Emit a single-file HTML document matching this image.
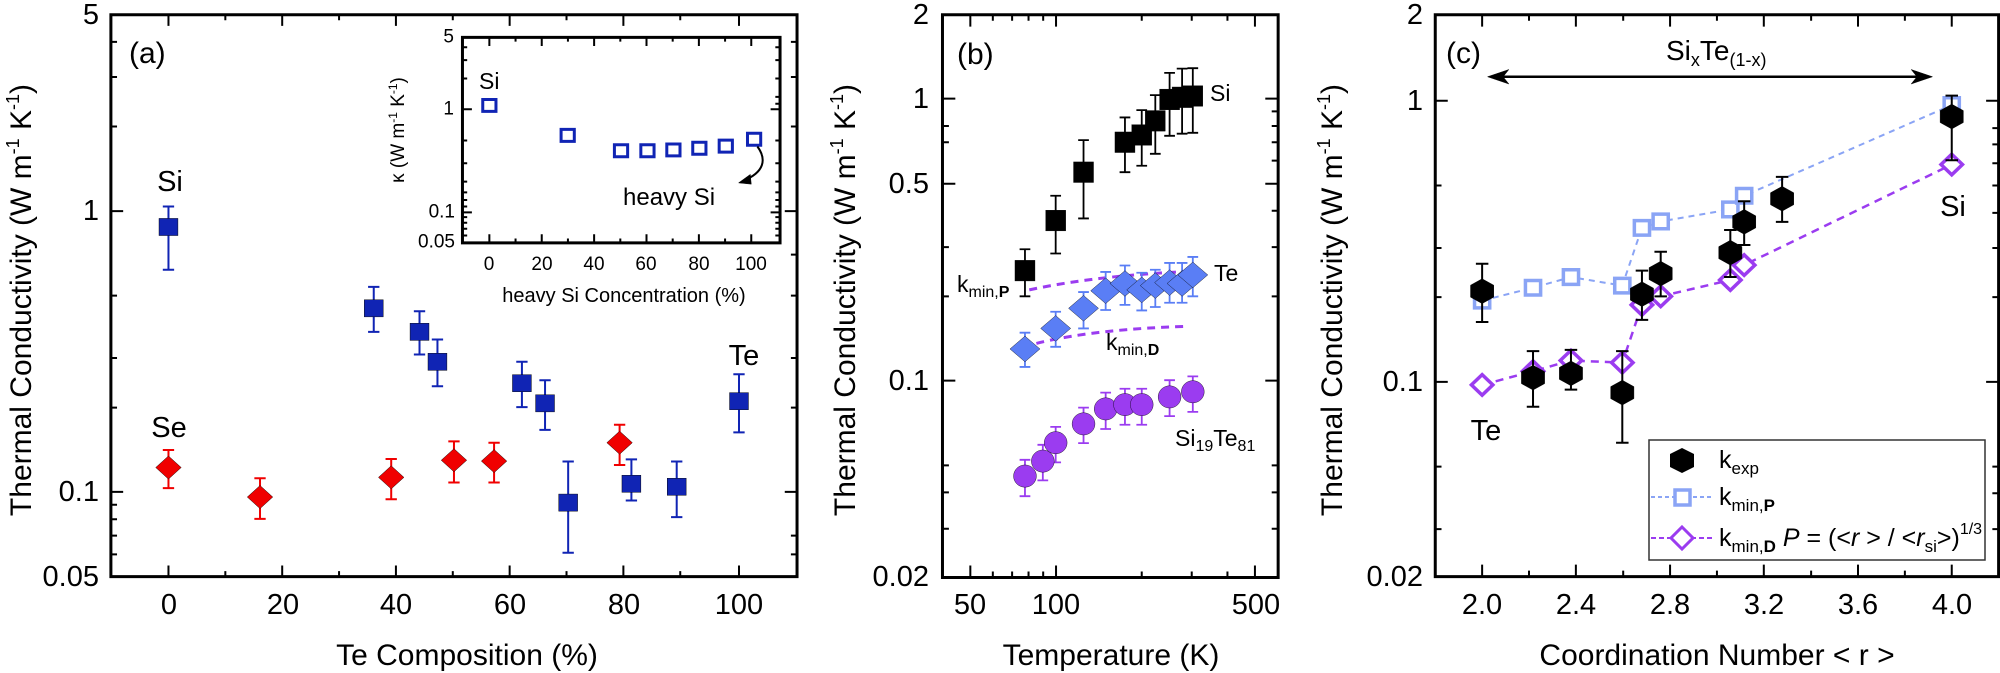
<!DOCTYPE html>
<html><head><meta charset="utf-8"><style>
html,body{margin:0;padding:0;background:#fff}
svg{display:block}
text{font-family:"Liberation Sans",Arial,sans-serif;fill:#000}
</style></head><body>
<svg width="2000" height="673" viewBox="0 0 2000 673" xmlns="http://www.w3.org/2000/svg">
<defs>
<rect id="sqa" x="-20" y="-20" width="40" height="40" fill="#1024b4"/>
<polygon id="dia" points="0,-27 27,0 0,27 -27,0" fill="#f00000"/>
<rect id="isq" x="-14" y="-14" width="28" height="28" fill="none" stroke="#1024b4" stroke-width="3" vector-effect="non-scaling-stroke"/>
<rect id="sqb" x="-28" y="-24" width="56" height="48" fill="#000"/>
<polygon id="dib" points="0,-30 42,0 0,30 -42,0" fill="#5a7ef5"/>
<ellipse id="cib" rx="32" ry="26" fill="#9b3cf0"/>
<polygon id="hex" points="0,-29 26,-14 26,14 0,29 -26,14 -26,-14" fill="#000"/>
<rect id="osq" x="-17" y="-17" width="34" height="34" fill="#fff" stroke="#8aa4f5" stroke-width="3.5" vector-effect="non-scaling-stroke"/>
<polygon id="odi" points="0,-24 24,0 0,24 -24,0" fill="#fff" stroke="#9b3cf0" stroke-width="3.5" vector-effect="non-scaling-stroke"/>
</defs>

<!-- ================= PANEL A ================= -->
<g transform="translate(0,1) scale(0.4719,0.4280)" fill="none" stroke="#000">
<rect x="235" y="32" width="1454" height="1313" stroke-width="3" vector-effect="non-scaling-stroke"/>
<path vector-effect="non-scaling-stroke" stroke-width="2" d="
M357 1345v-26 M477.5 1345v-13 M598 1345v-26 M718.5 1345v-13 M839 1345v-26 M959.5 1345v-13 M1080 1345v-26 M1200.5 1345v-13 M1321 1345v-26 M1441.5 1345v-13 M1566 1345v-26
M357 32v26 M477.5 32v13 M598 32v26 M718.5 32v13 M839 32v26 M959.5 32v13 M1080 32v26 M1200.5 32v13 M1321 32v26 M1441.5 32v13 M1566 32v26
M235 95.6h13 M235 177.6h13 M235 293.3h13 M235 491h26 M235 688.5h13 M235 834h13 M235 950h13 M235 1147h26 M235 1177h13 M235 1211h13 M235 1249h13 M235 1293h13
M1689 95.6h-13 M1689 177.6h-13 M1689 293.3h-13 M1689 491h-26 M1689 592.6h-13 M1689 688.5h-13 M1689 834h-13 M1689 950h-13 M1689 1147h-26 M1689 1249h-13 M1689 1293h-13"/>
<path stroke="#1024b4" stroke-width="2" vector-effect="non-scaling-stroke" d="
M357 480V628M345 480h24M345 628h24
M792 668V773M780 668h24M780 773h24
M889 725V826M877 725h24M877 826h24
M927 791V900M915 791h24M915 900h24
M1106 843V949M1094 843h24M1094 949h24
M1155 886V1002M1143 886h24M1143 1002h24
M1204 1076V1289M1192 1076h24M1192 1289h24
M1338 1071V1167M1326 1071h24M1326 1167h24
M1434 1076V1206M1422 1076h24M1422 1206h24
M1566 872V1008M1554 872h24M1554 1008h24"/>
<path stroke="#f00000" stroke-width="2" vector-effect="non-scaling-stroke" d="
M357 1049V1138M345 1049h24M345 1138h24
M551 1115V1210M539 1115h24M539 1210h24
M829 1070V1164M817 1070h24M817 1164h24
M962 1029V1125M950 1029h24M950 1125h24
M1047 1032V1125M1035 1032h24M1035 1125h24
M1313 990V1084M1301 990h24M1301 1084h24"/>
<use href="#sqa" x="357" y="528"/><use href="#sqa" x="792" y="718"/><use href="#sqa" x="889" y="773"/><use href="#sqa" x="927" y="843"/><use href="#sqa" x="1106" y="893"/><use href="#sqa" x="1155" y="940"/><use href="#sqa" x="1204" y="1172"/><use href="#sqa" x="1338" y="1128"/><use href="#sqa" x="1434" y="1135"/><use href="#sqa" x="1566" y="935"/>
<use href="#dia" x="357" y="1090"/><use href="#dia" x="551" y="1159"/><use href="#dia" x="829" y="1113"/><use href="#dia" x="962" y="1073"/><use href="#dia" x="1047" y="1075"/><use href="#dia" x="1313" y="1032"/>
<rect x="980" y="85" width="673" height="480" fill="#fff" stroke-width="3" vector-effect="non-scaling-stroke"/>
<path vector-effect="non-scaling-stroke" stroke-width="2" d="
M1037 565v-20 M1092.5 565v-10 M1148 565v-20 M1203.5 565v-10 M1259 565v-20 M1314.5 565v-10 M1370 565v-20 M1425.5 565v-10 M1481 565v-20 M1536.5 565v-10 M1592 565v-20
M1037 85v20 M1092.5 85v10 M1148 85v20 M1203.5 85v10 M1259 85v20 M1314.5 85v10 M1370 85v20 M1425.5 85v10 M1481 85v20 M1536.5 85v10 M1592 85v20
M980 108h10 M980 138h10 M980 181h10 M980 253h20 M980 326h10 M980 379h10 M980 422h10 M980 447h10 M980 465h10 M980 480h10 M980 494h20 M980 505h10 M980 518h10 M980 532h10 M980 548h10
M1653 108h-10 M1653 138h-10 M1653 181h-10 M1653 224h-10 M1653 240h-10 M1653 253h-20 M1653 326h-10 M1653 379h-10 M1653 422h-10 M1653 447h-10 M1653 465h-10 M1653 480h-10 M1653 494h-20 M1653 505h-10 M1653 518h-10 M1653 532h-10 M1653 548h-10"/>
<use href="#isq" x="1037" y="244"/><use href="#isq" x="1203" y="314"/><use href="#isq" x="1316" y="350"/><use href="#isq" x="1372" y="350"/><use href="#isq" x="1427" y="348"/><use href="#isq" x="1482" y="344"/><use href="#isq" x="1538" y="339"/><use href="#isq" x="1598" y="323"/>
<path stroke-width="2" vector-effect="non-scaling-stroke" d="M1605 340 C1625 370 1620 400 1575 420"/>
<polygon points="1565,425 1590,405 1592,428" fill="#000"/>
</g>
<g font-size="29">
<text x="99" y="15" text-anchor="end" dominant-baseline="central">5</text>
<text x="99" y="211" text-anchor="end" dominant-baseline="central">1</text>
<text x="99" y="492" text-anchor="end" dominant-baseline="central">0.1</text>
<text x="99" y="577" text-anchor="end" dominant-baseline="central">0.05</text>
<text x="169" y="614" text-anchor="middle">0</text>
<text x="283" y="614" text-anchor="middle">20</text>
<text x="396" y="614" text-anchor="middle">40</text>
<text x="510" y="614" text-anchor="middle">60</text>
<text x="624" y="614" text-anchor="middle">80</text>
<text x="739" y="614" text-anchor="middle">100</text>
<text x="467" y="665" text-anchor="middle" font-size="30">Te Composition (%)</text>
<text transform="translate(31,300) rotate(-90)" text-anchor="middle" font-size="30">Thermal Conductivity (W m<tspan font-size="18" dy="-12">-1</tspan><tspan dy="12"> K</tspan><tspan font-size="18" dy="-12">-1</tspan><tspan dy="12">)</tspan></text>
<text x="129" y="63" font-size="30">(a)</text>
<text x="170" y="191" text-anchor="middle">Si</text>
<text x="169" y="437" text-anchor="middle">Se</text>
<text x="744" y="365" text-anchor="middle">Te</text>
</g>
<g font-size="19">
<text x="454" y="37" text-anchor="end" dominant-baseline="central">5</text>
<text x="454" y="109" text-anchor="end" dominant-baseline="central">1</text>
<text x="455" y="212" text-anchor="end" dominant-baseline="central">0.1</text>
<text x="455" y="242" text-anchor="end" dominant-baseline="central">0.05</text>
<text x="489" y="270" text-anchor="middle">0</text>
<text x="542" y="270" text-anchor="middle">20</text>
<text x="594" y="270" text-anchor="middle">40</text>
<text x="646" y="270" text-anchor="middle">60</text>
<text x="699" y="270" text-anchor="middle">80</text>
<text x="751" y="270" text-anchor="middle">100</text>
<text x="624" y="302" text-anchor="middle" font-size="20">heavy Si Concentration (%)</text>
<text transform="translate(404,130) rotate(-90)" text-anchor="middle" font-size="19">κ (W m<tspan font-size="12" dy="-7">-1</tspan><tspan dy="7"> K</tspan><tspan font-size="12" dy="-7">-1</tspan><tspan dy="7">)</tspan></text>
<text x="479" y="89" font-size="23">Si</text>
<text x="623" y="205" font-size="24">heavy Si</text>
</g>

<!-- ================= PANEL B ================= -->
<g transform="translate(740,1) scale(0.3571,0.4280)" fill="none" stroke="#000">
<rect x="567" y="32" width="940" height="1315" stroke-width="3" vector-effect="non-scaling-stroke"/>
<path vector-effect="non-scaling-stroke" stroke-width="2" d="
M645 1347v-28 M708 1347v-14 M762 1347v-14 M808 1347v-14 M849 1347v-14 M885 1347v-28 M1125 1347v-14 M1265 1347v-14 M1365 1347v-14 M1442 1347v-28
M645 32v28 M708 32v14 M762 32v14 M808 32v14 M849 32v14 M885 32v28 M1125 32v14 M1265 32v14 M1365 32v14 M1442 32v28
M567 228h36 M567 292h18 M567 330h18 M567 427h36 M567 575h18 M567 690h18 M567 887h36 M567 1085h18 M567 1148h18 M567 1233h18
M1507 228h-36 M1507 258h-18 M1507 292h-18 M1507 330h-18 M1507 373h-18 M1507 427h-36 M1507 490h-18 M1507 575h-18 M1507 690h-18 M1507 887h-36 M1507 1085h-18 M1507 1148h-18 M1507 1233h-18"/>
<path stroke="#9b3cf0" stroke-width="3" stroke-dasharray="8 6" vector-effect="non-scaling-stroke" d="M810 675 C950 650 1100 638 1255 632 M830 800 C950 775 1100 764 1255 760"/>
<path stroke="#000" stroke-width="1.8" vector-effect="non-scaling-stroke" d="
M798 580V690M783 580h30M783 690h30 M884 455V590M869 455h30M869 590h30 M962 325V508M947 325h30M947 508h30
M1078 272V400M1063 272h30M1063 400h30 M1125 255V385M1110 255h30M1110 385h30 M1163 220V357M1148 220h30M1148 357h30
M1203 168V315M1188 168h30M1188 315h30 M1238 158V310M1223 158h30M1223 310h30 M1268 157V308M1253 157h30M1253 308h30"/>
<path stroke="#5a7ef5" stroke-width="1.8" vector-effect="non-scaling-stroke" d="
M798 775V855M783 775h30M783 855h30 M884 726V808M869 726h30M869 808h30 M962 680V765M947 680h30M947 765h30
M1024 633V722M1009 633h30M1009 722h30 M1078 618V710M1063 618h30M1063 710h30 M1125 635V723M1110 635h30M1110 723h30
M1163 628V715M1148 628h30M1148 715h30 M1203 612V705M1188 612h30M1188 705h30 M1238 612V705M1223 612h30M1223 705h30 M1268 598V690M1253 598h30M1253 690h30"/>
<path stroke="#9b3cf0" stroke-width="1.8" vector-effect="non-scaling-stroke" d="
M798 1072V1157M783 1072h30M783 1157h30 M848 1037V1120M833 1037h30M833 1120h30 M884 995V1078M869 995h30M869 1078h30
M962 950V1033M947 950h30M947 1033h30 M1024 915V1000M1009 915h30M1009 1000h30 M1078 906V990M1063 906h30M1063 990h30
M1125 906V990M1110 906h30M1110 990h30 M1203 886V970M1188 886h30M1188 970h30 M1268 877V960M1253 877h30M1253 960h30"/>
<use href="#sqb" x="798" y="630"/><use href="#sqb" x="884" y="513"/><use href="#sqb" x="962" y="400"/><use href="#sqb" x="1078" y="330"/><use href="#sqb" x="1125" y="313"/><use href="#sqb" x="1163" y="280"/><use href="#sqb" x="1203" y="230"/><use href="#sqb" x="1238" y="225"/><use href="#sqb" x="1268" y="222"/>
<use href="#dib" x="798" y="813"/><use href="#dib" x="884" y="765"/><use href="#dib" x="962" y="718"/><use href="#dib" x="1024" y="677"/><use href="#dib" x="1078" y="660"/><use href="#dib" x="1125" y="675"/><use href="#dib" x="1163" y="665"/><use href="#dib" x="1203" y="658"/><use href="#dib" x="1238" y="660"/><use href="#dib" x="1268" y="640"/>
<use href="#cib" x="798" y="1110"/><use href="#cib" x="848" y="1075"/><use href="#cib" x="884" y="1032"/><use href="#cib" x="962" y="988"/><use href="#cib" x="1024" y="953"/><use href="#cib" x="1078" y="943"/><use href="#cib" x="1125" y="943"/><use href="#cib" x="1203" y="925"/><use href="#cib" x="1268" y="913"/>
</g>
<g font-size="29">
<text x="929" y="15" text-anchor="end" dominant-baseline="central">2</text>
<text x="929" y="99" text-anchor="end" dominant-baseline="central">1</text>
<text x="929" y="184" text-anchor="end" dominant-baseline="central">0.5</text>
<text x="929" y="381" text-anchor="end" dominant-baseline="central">0.1</text>
<text x="929" y="577" text-anchor="end" dominant-baseline="central">0.02</text>
<text x="970" y="614" text-anchor="middle">50</text>
<text x="1056" y="614" text-anchor="middle">100</text>
<text x="1256" y="614" text-anchor="middle">500</text>
<text x="1111" y="665" text-anchor="middle" font-size="30">Temperature (K)</text>
<text transform="translate(855,300) rotate(-90)" text-anchor="middle" font-size="30">Thermal Conductivity (W m<tspan font-size="18" dy="-12">-1</tspan><tspan dy="12"> K</tspan><tspan font-size="18" dy="-12">-1</tspan><tspan dy="12">)</tspan></text>
<text x="957" y="64" font-size="30">(b)</text>
<text x="1210" y="101" font-size="23">Si</text>
<text x="1214" y="281" font-size="23">Te</text>
<text x="957" y="292" font-size="23">k<tspan font-size="16" dy="5">min,</tspan><tspan font-size="16" font-weight="bold">P</tspan></text>
<text x="1106" y="350" font-size="23">k<tspan font-size="16" dy="5">min,</tspan><tspan font-size="16" font-weight="bold">D</tspan></text>
<text x="1175" y="446" font-size="23">Si<tspan font-size="16" dy="5">19</tspan><tspan dy="-5">Te</tspan><tspan font-size="16" dy="5">81</tspan></text>
</g>

<!-- ================= PANEL C ================= -->
<g transform="translate(1300,1) scale(0.4464,0.4280)" fill="none" stroke="#000">
<rect x="303" y="32" width="1262" height="1313" stroke-width="3" vector-effect="non-scaling-stroke"/>
<path vector-effect="non-scaling-stroke" stroke-width="2" d="
M408 1345v-28 M513 1345v-14 M618 1345v-28 M724 1345v-14 M829 1345v-28 M934 1345v-14 M1039 1345v-28 M1145 1345v-14 M1250 1345v-28 M1355 1345v-14 M1460 1345v-28
M408 32v28 M513 32v14 M618 32v28 M724 32v14 M829 32v28 M934 32v14 M1039 32v28 M1145 32v14 M1250 32v28 M1355 32v14 M1460 32v28
M303 233h28 M303 431h14 M303 577h14 M303 692h14 M303 890h28 M303 1088h14 M303 1234h14
M1565 233h-28 M1565 297h-14 M1565 335h-14 M1565 379h-14 M1565 431h-14 M1565 495h-14 M1565 577h-14 M1565 692h-14 M1565 890h-28 M1565 1088h-14 M1565 1150h-14 M1565 1234h-14"/>
<path stroke-width="2.5" vector-effect="non-scaling-stroke" d="M440 177H1395"/>
<polygon points="420,177 468,160 455,177 468,194" fill="#000"/>
<polygon points="1417,177 1369,160 1382,177 1369,194" fill="#000"/>
<path stroke="#8aa4f5" stroke-width="2" stroke-dasharray="6 5" vector-effect="non-scaling-stroke" d="M408 700L522 670L607 645L722 665L766 530L808 515L964 487L995 455L1460 243"/>
<path stroke="#9b3cf0" stroke-width="2.5" stroke-dasharray="8 6" vector-effect="non-scaling-stroke" d="M408 897L522 865L607 840L722 845L766 710L808 690L964 652L995 617L1460 382"/>
<use href="#osq" x="408" y="700"/><use href="#osq" x="522" y="670"/><use href="#osq" x="607" y="645"/><use href="#osq" x="722" y="665"/><use href="#osq" x="766" y="530"/><use href="#osq" x="808" y="515"/><use href="#osq" x="964" y="487"/><use href="#osq" x="995" y="455"/><use href="#osq" x="1460" y="243"/>
<use href="#odi" x="408" y="897"/><use href="#odi" x="522" y="865"/><use href="#odi" x="607" y="840"/><use href="#odi" x="722" y="845"/><use href="#odi" x="766" y="710"/><use href="#odi" x="808" y="690"/><use href="#odi" x="964" y="652"/><use href="#odi" x="995" y="617"/><use href="#odi" x="1460" y="382"/>
<path stroke-width="2" vector-effect="non-scaling-stroke" d="
M408 614V750M394 614h28M394 750h28 M522 818V948M508 818h28M508 948h28 M607 815V908M593 815h28M593 908h28
M722 818V1032M708 818h28M708 1032h28 M766 630V745M752 630h28M752 745h28 M808 586V690M794 586h28M794 690h28
M964 535V645M950 535h28M950 645h28 M995 468V570M981 468h28M981 570h28 M1080 411V516M1066 411h28M1066 516h28 M1460 221V372M1446 221h28M1446 372h28"/>
<use href="#hex" x="408" y="678"/><use href="#hex" x="522" y="880"/><use href="#hex" x="607" y="870"/><use href="#hex" x="722" y="915"/><use href="#hex" x="766" y="685"/><use href="#hex" x="808" y="637"/><use href="#hex" x="964" y="588"/><use href="#hex" x="995" y="516"/><use href="#hex" x="1080" y="462"/><use href="#hex" x="1460" y="270"/>
</g>
<rect x="1649" y="440" width="336" height="120" fill="#fff" stroke="#333" stroke-width="1.5"/>
<polygon points="1682,448 1694,454 1694,467 1682,473 1670,467 1670,454" fill="#000"/>
<path d="M1651 497H1714" stroke="#8aa4f5" stroke-width="2" stroke-dasharray="4 3"/>
<rect x="1675" y="490" width="15" height="15" fill="#fff" stroke="#8aa4f5" stroke-width="3.5"/>
<path d="M1651 538H1714" stroke="#9b3cf0" stroke-width="2" stroke-dasharray="5 3"/>
<polygon points="1682,527 1693,538 1682,549 1671,538" fill="#fff" stroke="#9b3cf0" stroke-width="3"/>
<g font-size="25">
<text x="1719" y="468">k<tspan font-size="17" dy="6">exp</tspan></text>
<text x="1719" y="505">k<tspan font-size="17" dy="6">min,</tspan><tspan font-size="17" font-weight="bold">P</tspan></text>
<text x="1719" y="546">k<tspan font-size="17" dy="6">min,</tspan><tspan font-size="17" font-weight="bold">D</tspan><tspan dy="-6" font-style="italic"> P</tspan><tspan> = (&lt;</tspan><tspan font-style="italic">r</tspan><tspan> &gt; / &lt;</tspan><tspan font-style="italic">r</tspan><tspan font-size="17" dy="6">si</tspan><tspan dy="-6">&gt;)</tspan><tspan font-size="16" dy="-12">1/3</tspan></text>
</g>
<g font-size="29">
<text x="1423" y="15" text-anchor="end" dominant-baseline="central">2</text>
<text x="1423" y="101" text-anchor="end" dominant-baseline="central">1</text>
<text x="1423" y="382" text-anchor="end" dominant-baseline="central">0.1</text>
<text x="1423" y="577" text-anchor="end" dominant-baseline="central">0.02</text>
<text x="1482" y="614" text-anchor="middle">2.0</text>
<text x="1576" y="614" text-anchor="middle">2.4</text>
<text x="1670" y="614" text-anchor="middle">2.8</text>
<text x="1764" y="614" text-anchor="middle">3.2</text>
<text x="1858" y="614" text-anchor="middle">3.6</text>
<text x="1952" y="614" text-anchor="middle">4.0</text>
<text x="1717" y="665" text-anchor="middle" font-size="30">Coordination Number &lt; r &gt;</text>
<text transform="translate(1342,300) rotate(-90)" text-anchor="middle" font-size="30">Thermal Conductivity (W m<tspan font-size="18" dy="-12">-1</tspan><tspan dy="12"> K</tspan><tspan font-size="18" dy="-12">-1</tspan><tspan dy="12">)</tspan></text>
<text x="1446" y="63" font-size="30">(c)</text>
<text x="1666" y="60" font-size="28">Si<tspan font-size="18" dy="6">x</tspan><tspan dy="-6">Te</tspan><tspan font-size="18" dy="6">(1-x)</tspan></text>
<text x="1486" y="440" text-anchor="middle">Te</text>
<text x="1953" y="216" text-anchor="middle">Si</text>
</g>
</svg>
</body></html>
